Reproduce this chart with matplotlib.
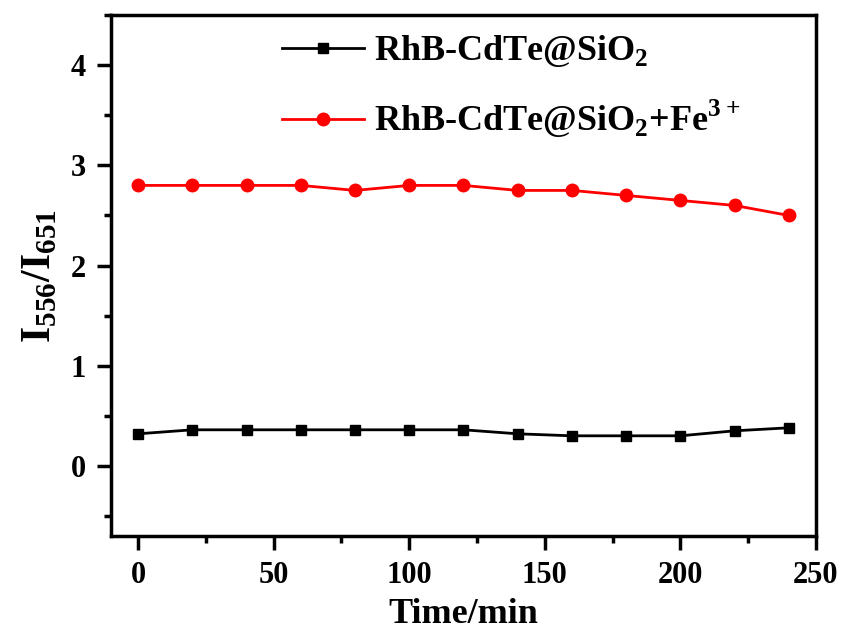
import matplotlib.pyplot as plt
from matplotlib.ticker import MultipleLocator

plt.rcParams['font.family'] = ['Liberation Serif', 'DejaVu Serif']
plt.rcParams['font.weight'] = 'bold'
plt.rcParams['mathtext.fontset'] = 'custom'
plt.rcParams['mathtext.rm'] = 'Liberation Serif:bold'
plt.rcParams['mathtext.bf'] = 'Liberation Serif:bold'

time_min = [0, 20, 40, 60, 80, 100, 120, 140, 160, 180, 200, 220, 240]
ratio_blank = [0.32, 0.36, 0.36, 0.36, 0.36, 0.36, 0.36, 0.32, 0.30, 0.30, 0.30, 0.35, 0.38]
ratio_fe = [2.80, 2.80, 2.80, 2.80, 2.75, 2.80, 2.80, 2.75, 2.75, 2.70, 2.65, 2.60, 2.50]

fig = plt.figure(figsize=(8.44, 6.31), dpi=100)
ax = fig.add_axes([0.1315, 0.1506, 0.8353, 0.8254])

ax.plot(time_min, ratio_blank, color='black', marker='s', markersize=7, linewidth=2,
        label=r'RhB-CdTe@SiO$_2$')
ax.plot(time_min, ratio_fe, color='red', marker='o', markersize=9, linewidth=2,
        label=r'RhB-CdTe@SiO$_2$+Fe$^{3+}$')

ax.set_xlim(-10, 250)
ax.set_ylim(-0.7, 4.5)
ax.xaxis.set_major_locator(MultipleLocator(50))
ax.xaxis.set_minor_locator(MultipleLocator(25))
ax.yaxis.set_major_locator(MultipleLocator(1))
ax.yaxis.set_minor_locator(MultipleLocator(0.5))
ax.tick_params(which='both', direction='out', width=2.5, labelsize=22, pad=8)
ax.tick_params(which='major', length=10)
ax.tick_params(which='minor', length=5)
for s in ax.spines.values():
    s.set_linewidth(2.5)

ax.set_xlabel('Time/min', fontsize=26, fontweight='bold', labelpad=6)
ax.set_ylabel(r'I$_{556}$/I$_{651}$', fontsize=30, fontweight='bold', labelpad=8)

ax.legend(loc='upper left', bbox_to_anchor=(0.243, 0.965), frameon=False, fontsize=26,
          handlelength=2.25, labelspacing=0.8, handletextpad=0.3,
          borderpad=0, borderaxespad=0)

fig.savefig('out.png', dpi=100)
